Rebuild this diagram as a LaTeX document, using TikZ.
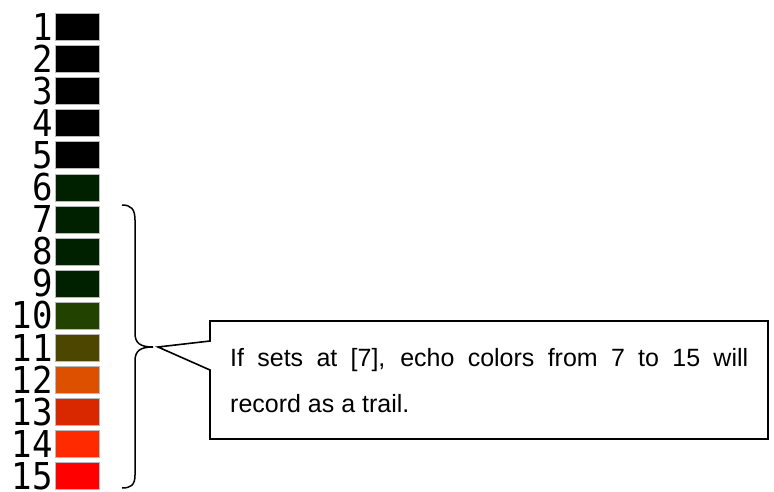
\documentclass[tikz,border=0pt]{standalone}
\usepackage{fontspec}
\setmainfont{Liberation Sans}
\newfontfamily\digitfont{DejaVu Sans Mono}
\definecolor{cblack}{HTML}{000000}
\definecolor{cgreen}{HTML}{002100}
\definecolor{cgreenb}{HTML}{224300}
\definecolor{colive}{HTML}{4D4600}
\definecolor{corange}{HTML}{DD5000}
\definecolor{cred}{HTML}{D92800}
\definecolor{credb}{HTML}{FF2A00}
\definecolor{credc}{HTML}{FF0000}
\tikzset{
  swatch/.style={draw=gray!55, line width=0.7pt, minimum width=44pt, minimum height=27pt, inner sep=0pt, anchor=north west},
  numlabel/.style={font=\digitfont\fontsize{37}{37}\selectfont, inner sep=0pt, anchor=base east, xscale=0.92, text height=27pt, text depth=0pt},
  outline/.style={line width=1.6pt, black, line join=miter},
  bodytext/.style={font=\fontsize{25}{30}\selectfont, inner sep=0pt, anchor=base west}
}
\begin{document}
\begin{tikzpicture}[x=1pt, y=-1pt]
\useasboundingbox (0,0) rectangle (774,491);
\foreach \n/\c in {1/cblack,2/cblack,3/cblack,4/cblack,5/cblack,6/cgreen,7/cgreen,8/cgreen,9/cgreen,10/cgreenb,11/colive,12/corange,13/cred,14/credb,15/credc}{
  \pgfmathsetmacro{\top}{13+32.1*(\n-1)}
  \node[swatch, fill=\c] (s\n) at (55,\top) {};
  \node[numlabel] (n\n) at (53,\top+27) {\n};
}
% brace
\coordinate (btop) at (122,205);
\coordinate (bbot) at (122,488);
\coordinate (btip) at (153,347);
\draw[outline, line width=1.5pt] (btop) .. controls (131,205) and (135,209) .. (135,220) -- (135,333)
  .. controls (135,343) and (140,347) .. (btip)
  .. controls (140,347) and (135,351) .. (135,361) -- (135,475)
  .. controls (135,485) and (131,488) .. (bbot);
% callout box
\coordinate (ptip) at (158,347);
\draw[outline] (210,321) -- (768,321) -- (768,439) -- (210,439) -- (210,370) -- (ptip) -- (210,341) -- cycle;
\node[bodytext] (l1) at (230,366) {\makebox[518pt][s]{If sets at [7], echo colors from 7 to 15 will}};
\node[bodytext] (l2) at (230,412) {record as a trail.};
\end{tikzpicture}
\end{document}
